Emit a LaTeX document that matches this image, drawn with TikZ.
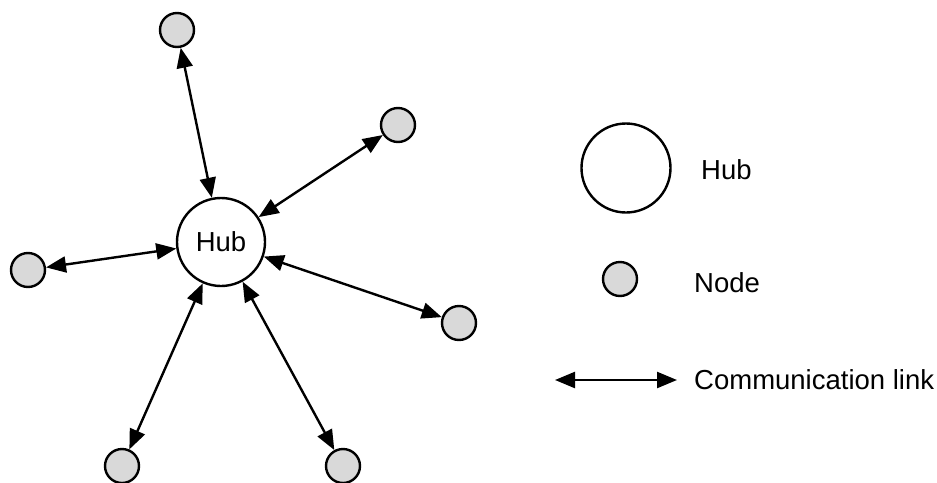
\documentclass[tikz,border=0pt]{standalone}
\usepackage{fontspec}
\setmainfont{Liberation Sans}
\usetikzlibrary{arrows.meta}
\definecolor{nodegray}{RGB}{217,217,217}
\begin{document}
\begin{tikzpicture}[x=1pt,y=-1pt,
  hubbox/.style={circle,draw=black,line width=2.4pt,fill=white,minimum size=88pt,inner sep=0pt,font=\fontsize{27.5}{32}\selectfont},
  smallnode/.style={circle,draw=black,line width=2.4pt,fill=nodegray,minimum size=34pt,inner sep=0pt},
  lbl/.style={anchor=west,inner sep=0pt,font=\fontsize{27.5}{32}\selectfont},
  link/.style={line width=2.4pt,{Triangle[length=20pt,width=16pt]}-{Triangle[length=20pt,width=16pt]}}]
\useasboundingbox (0,0) rectangle (937,482);
\node[hubbox] (hub) at (221,242) {Hub};
\node[smallnode] (n1) at (177,30) {};
\node[smallnode] (n2) at (398,125) {};
\node[smallnode] (n3) at (28,270) {};
\node[smallnode] (n4) at (459,323) {};
\node[smallnode] (n5) at (122,466) {};
\node[smallnode] (n6) at (343,466) {};
\draw[link] (hub) -- (n1);
\draw[link] (hub) -- (n2);
\draw[link] (hub) -- (n3);
\draw[link] (hub) -- (n4);
\draw[link] (hub) -- (n5);
\draw[link] (hub) -- (n6);
% legend
\node[hubbox,minimum size=89pt] (lhub) at (626,168) {};
\node[lbl] (lhubt) at (701,170) {Hub};
\node[smallnode] (lnode) at (620,279) {};
\node[lbl] (lnodet) at (694,283) {Node};
\coordinate (la) at (555,380);
\coordinate (lb) at (677,380);
\draw[link] (la) -- (lb);
\node[lbl] (llink) at (694,380) {Communication link};
\end{tikzpicture}
\end{document}
